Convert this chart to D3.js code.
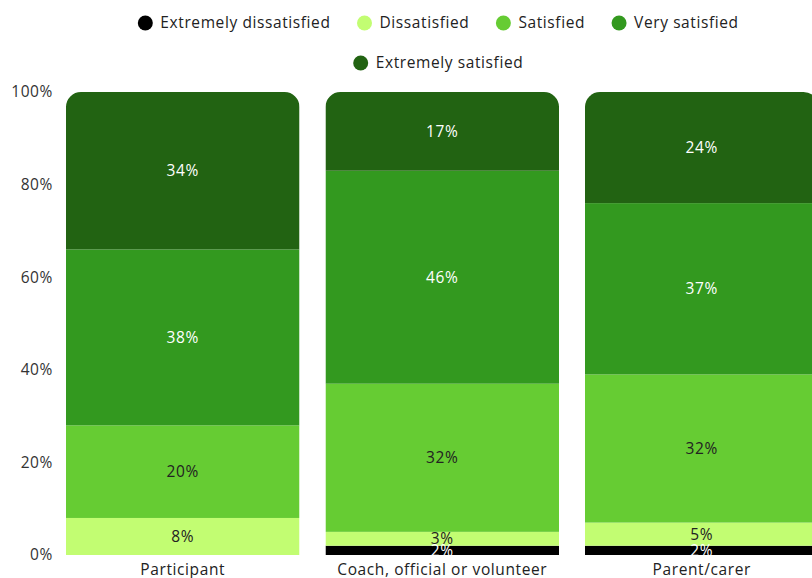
<!DOCTYPE html>
<html>
<head>
<meta charset="utf-8">
<script src="https://cdn.jsdelivr.net/npm/d3@7"></script>
<style>
  html, body { margin: 0; padding: 0; background: #fff; overflow: hidden; }
  svg { display: block; font-family: "Open Sans", "Noto Sans", sans-serif; }
  svg text { letter-spacing: 0.6px; }
</style>
</head>
<body>
<svg id="chart" width="812" height="578"></svg>
<script>
// Satisfaction by respondent role (percent of respondents)
const categories = ["Participant", "Coach, official or volunteer", "Parent/carer"];
const seriesNames = ["Extremely dissatisfied", "Dissatisfied", "Satisfied", "Very satisfied", "Extremely satisfied"];
const extremelyDissatisfied = [0, 2, 2];
const dissatisfied = [8, 3, 5];
const satisfied = [20, 32, 32];
const verySatisfied = [38, 46, 37];
const extremelySatisfied = [34, 17, 24];
const yTickValues = [0, 20, 40, 60, 80, 100];
const seriesColors = ["#000000", "#c2fd72", "#66cc33", "#33991f", "#226312"];
const labelColors = ["#ffffff", "#222222", "#222222", "#ffffff", "#ffffff"];

const seriesValues = [extremelyDissatisfied, dissatisfied, satisfied, verySatisfied, extremelySatisfied];
const rows = categories.map((c, i) => {
  const r = { category: c };
  seriesNames.forEach((s, k) => { r[s] = seriesValues[k][i]; });
  return r;
});
const stacked = d3.stack().keys(seriesNames)(rows);

const svg = d3.select("#chart");
const margin = { left: 53, top: 92, bottom: 555 };
const fontFamily = "\"Open Sans\", \"Noto Sans\", sans-serif";

const x = d3.scaleBand()
  .domain(categories)
  .range([margin.left, margin.left + 3 * 259.5])
  .paddingInner(0.1)
  .paddingOuter(0.05);
const y = d3.scaleLinear().domain([0, 100]).range([margin.bottom, margin.top]);

// Y axis labels
const yAxis = d3.axisLeft(y)
  .tickValues(yTickValues)
  .tickFormat(d => d + "%")
  .tickSize(0)
  .tickPadding(0);
const yg = svg.append("g").attr("transform", `translate(${margin.left},0)`).call(yAxis);
yg.select(".domain").remove();
yg.selectAll("text")
  .attr("fill", "#333")
  .style("font-size", "15.5px")
  .style("font-family", fontFamily);

// X axis labels
const xAxis = d3.axisBottom(x).tickSize(0).tickPadding(9);
const xg = svg.append("g").attr("transform", `translate(0,${margin.bottom})`).call(xAxis);
xg.select(".domain").remove();
xg.selectAll("text")
  .attr("fill", "#222")
  .style("font-size", "15.5px")
  .style("font-family", fontFamily);

// Rounded-top clip shapes for each bar
const radius = 15;
const defs = svg.append("defs");
categories.forEach((c, i) => {
  const x0 = x(c), x1 = x(c) + x.bandwidth();
  const yTop = y(100), yBot = y(0);
  const p = d3.path();
  p.moveTo(x0, yBot);
  p.lineTo(x0, yTop + radius);
  p.arcTo(x0, yTop, x0 + radius, yTop, radius);
  p.lineTo(x1 - radius, yTop);
  p.arcTo(x1, yTop, x1, yTop + radius, radius);
  p.lineTo(x1, yBot);
  p.closePath();
  defs.append("clipPath").attr("id", "bar-clip-" + i)
    .append("path").attr("d", p.toString());
});

// Bars
const barGroups = svg.append("g").selectAll("g.bar")
  .data(categories)
  .join("g")
  .attr("class", "bar")
  .attr("clip-path", (d, i) => `url(#bar-clip-${i})`);

barGroups.each(function(cat, i) {
  const g = d3.select(this);
  stacked.forEach((layer, k) => {
    const seg = layer[i];
    if (seg[1] - seg[0] <= 0) return;
    g.append("rect")
      .attr("x", x(cat))
      .attr("width", x.bandwidth())
      .attr("y", y(seg[1]))
      .attr("height", y(seg[0]) - y(seg[1]))
      .attr("fill", seriesColors[k]);
  });
});

// Value labels
const labels = svg.append("g");
categories.forEach((cat, i) => {
  stacked.forEach((layer, k) => {
    const seg = layer[i];
    const v = seg[1] - seg[0];
    if (v <= 0) return;
    labels.append("text")
      .attr("x", x(cat) + x.bandwidth() / 2)
      .attr("y", y((seg[0] + seg[1]) / 2))
      .attr("dy", "0.35em")
      .attr("text-anchor", "middle")
      .attr("fill", labelColors[k])
      .style("font-size", "15.5px")
      .text(v + "%");
  });
});

// Legend (two centred rows)
const legendRows = [[0, 1, 2, 3], [4]];
const legendY = [23, 63];
const legendCenter = 438;
const itemGap = 26;
legendRows.forEach((row, ri) => {
  const lg = svg.append("g");
  let cx = 0;
  row.forEach(k => {
    const item = lg.append("g").attr("transform", `translate(${cx},0)`);
    item.append("circle").attr("cx", 8).attr("cy", 0).attr("r", 7.5).attr("fill", seriesColors[k]);
    const t = item.append("text")
      .attr("x", 23).attr("y", 0).attr("dy", "0.35em")
      .attr("fill", "#222")
      .style("font-size", "15.5px")
      .text(seriesNames[k]);
    cx += 23 + t.node().getComputedTextLength() + itemGap;
  });
  const w = cx - itemGap;
  lg.attr("transform", `translate(${legendCenter - w / 2},${legendY[ri]})`);
});
</script>
</body>
</html>
